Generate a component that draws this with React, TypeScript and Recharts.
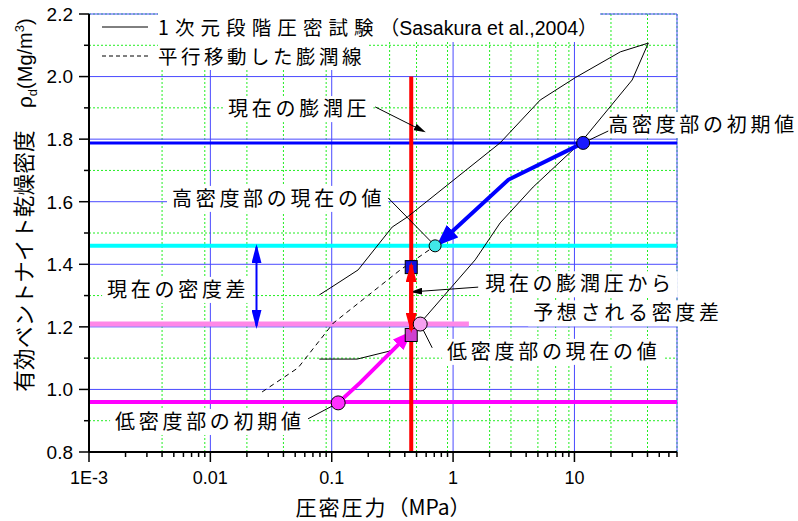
import React from 'react';
import {
  ComposedChart, Line, Scatter, XAxis, YAxis, CartesianGrid, ReferenceLine, ReferenceDot, Legend,
} from 'recharts';

const JP = '"Noto Sans CJK JP", sans-serif';
const LATIN = '"Liberation Sans", Arial, sans-serif';
const LATIN_JP = '"Liberation Sans", "Noto Sans CJK JP", sans-serif';

// axes
const X_DOMAIN = [0.001, 70];
const Y_DOMAIN = [0.8, 2.2];
const X_MAJOR_TICKS = [0.001, 0.01, 0.1, 1, 10];
const X_TICK_LABELS = ['1E-3', '0.01', '0.1', '1', '10'];
const X_MINOR_TICKS = [
  0.002, 0.003, 0.004, 0.005, 0.006, 0.007, 0.008, 0.009,
  0.02, 0.03, 0.04, 0.05, 0.06, 0.07, 0.08, 0.09,
  0.2, 0.3, 0.4, 0.5, 0.6, 0.7, 0.8, 0.9,
  2, 3, 4, 5, 6, 7, 8, 9,
  20, 30, 40, 50, 60, 70,
];
const X_GRID_MAJOR = [0.01, 0.1, 1, 10];
const Y_MAJOR_TICKS = [0.8, 1.0, 1.2, 1.4, 1.6, 1.8, 2.0, 2.2];
const Y_TICK_LABELS = ['0.8', '1.0', '1.2', '1.4', '1.6', '1.8', '2.0', '2.2'];
const Y_MINOR_TICKS = [0.9, 1.1, 1.3, 1.5, 1.7, 1.9, 2.1];
const Y_GRID_MAJOR = [1.0, 1.2, 1.4, 1.6, 1.8, 2.0];
const X_TICKS = [...X_MAJOR_TICKS, ...X_MINOR_TICKS].sort((a, b) => a - b);
const Y_TICKS = [...Y_MAJOR_TICKS, ...Y_MINOR_TICKS].sort((a, b) => a - b);

// 1次元段階圧密試験 (loading branch, then unloading branch)
const TEST_NAME = '1次元段階圧密試験（Sasakura et al.,2004）';
const TEST_PRESSURE = [0.079, 0.162, 0.303, 0.536, 1.52, 2.44, 4.57, 11.2, 29.9, 40.6, 23.9, 10.2, 5.22, 2.44, 0.42, 0.315, 0.165, 0.097, 0.079];
const TEST_DENSITY = [1.097, 1.097, 1.123, 1.212, 1.414, 1.532, 1.647, 1.788, 1.989, 2.107, 2.079, 1.997, 1.925, 1.788, 1.551, 1.519, 1.382, 1.324, 1.302];

// 平行移動した膨潤線
const SWELL_NAME = '平行移動した膨潤線';
const SWELL_PRESSURE = [0.0267, 0.0528, 0.103, 0.367, 0.711];
const SWELL_DENSITY = [0.992, 1.069, 1.212, 1.382, 1.459];

// paths of high / low density parts
const HIGH_PATH_PRESSURE = [11.8, 2.85, 0.76];
const HIGH_PATH_DENSITY = [1.788, 1.67, 1.465];
const LOW_PATH_PRESSURE = [0.113, 0.171, 0.443];
const LOW_PATH_DENSITY = [0.957, 1.021, 1.181];

// points
const HIGH_INIT = [11.8, 1.788];
const HIGH_NOW = [0.711, 1.459];
const LOW_NOW = [0.536, 1.209];
const LOW_INIT = [0.113, 0.957];
const SWELL_HIGH = [0.452, 1.391];
const SWELL_LOW = [0.452, 1.174];

// levels
const HIGH_INIT_RHO = 1.788;
const HIGH_NOW_RHO = 1.459;
const LOW_NOW_RHO = 1.209;
const LOW_NOW_END = 1.35;
const LOW_INIT_RHO = 0.96;
const SWELL_P_NOW = 0.452;
const SWELL_P_RANGE = [2.0, 0.8];
const EXPECTED_DIFF = [1.19, 1.398];
const DIFF_P = 0.024;
const CURRENT_DIFF = [1.455, 1.203];

// annotations
const NOTE_TEXTS = ['現在の膨潤圧', '高密度部の現在の値', '高密度部の初期値', '現在の密度差', '現在の膨潤圧から', '予想される密度差', '低密度部の現在の値', '低密度部の初期値'];
const NOTE_PRESSURE = [0.014, 0.00483, 19.0, 0.00141, 1.84, 4.57, 0.893, 0.00164];
const NOTE_DENSITY = [1.896, 1.609, 1.845, 1.318, 1.336, 1.243, 1.12, 0.896];

const LEADER_FROM = [[0.228, 1.903], [0.292, 1.612], [11.8, 1.788], [1.61, 1.327], [0.536, 1.209], [0.0638, 0.906]];
const LEADER_TO = [[0.566, 1.826], [0.711, 1.459], [19.0, 1.826], [0.469, 1.312], [0.673, 1.133], [0.113, 0.957]];
const LEADER_ARROW = [true, false, false, true, false, false];

const zip = (xs: number[], ys: number[]) => xs.map((x, i) => ({ x, y: ys[i] }));
const pt = (p: number[]) => [{ x: p[0], y: p[1] }];

const NOTE_ADVANCE = 23.7;
const LEGEND_ROW = 28.5;

function XTick(props: any) {
  const { x, y, payload } = props;
  const i = X_MAJOR_TICKS.findIndex((v) => Math.abs(v / payload.value - 1) < 1e-6);
  return (
    <g>
      <line x1={x} y1={y} x2={x} y2={y + (i >= 0 ? 10 : 5)} stroke="#000" strokeWidth={1.5} />
      {i >= 0 && (
        <text x={x} y={y + 32} textAnchor="middle" fontFamily={LATIN} fontSize={18} fill="#000">
          {X_TICK_LABELS[i]}
        </text>
      )}
    </g>
  );
}

function YTick(props: any) {
  const { x, y, payload } = props;
  const i = Y_MAJOR_TICKS.findIndex((v) => Math.abs(v - payload.value) < 1e-6);
  return (
    <g>
      <line x1={x} y1={y} x2={x - (i >= 0 ? 10 : 5)} y2={y} stroke="#000" strokeWidth={1.5} />
      {i >= 0 && (
        <text x={x - 16} y={y} dy="0.36em" textAnchor="end" fontFamily={LATIN} fontSize={19} fill="#000">
          {Y_TICK_LABELS[i]}
        </text>
      )}
    </g>
  );
}

function XTitle(props: any) {
  const vb = props.viewBox;
  return (
    <text x={vb.x + vb.width / 2} y={vb.y + 63} textAnchor="middle" fontFamily={JP} fontSize={21} fill="#000">
      <tspan letterSpacing={2}>圧密圧力</tspan>
      <tspan>（MPa）</tspan>
    </text>
  );
}

function YTitle(props: any) {
  const vb = props.viewBox;
  const cx = vb.x + 24;
  const cy = vb.y + vb.height / 2 - 28;
  return (
    <text transform={`rotate(-90 ${cx} ${cy})`} x={cx} y={cy + 8} textAnchor="middle" fontFamily={JP} fontSize={21.5} fill="#000">
      <tspan letterSpacing={0.3}>有効ベントナイト乾燥密度</tspan>
      <tspan dx={22} fontFamily={LATIN} fontSize={21}>ρ</tspan>
      <tspan fontFamily={LATIN} fontSize={13} dy={5}>d</tspan>
      <tspan fontFamily={LATIN} fontSize={20} dy={-5}>(Mg/m</tspan>
      <tspan fontFamily={LATIN} fontSize={13} dy={-8}>3</tspan>
      <tspan fontFamily={LATIN} fontSize={20} dy={8}>)</tspan>
    </text>
  );
}

function LegendBox(props: any) {
  const items = (props.payload || []).filter((e: any) => e.value === TEST_NAME || e.value === SWELL_NAME);
  return (
    <div style={{ fontFamily: JP, fontSize: 19.5, lineHeight: `${LEGEND_ROW}px`, color: '#000' }}>
      {items.map((e: any) => {
        const dashed = e.value === SWELL_NAME;
        const cut = e.value.indexOf('（');
        const head = cut >= 0 ? e.value.slice(0, cut) : e.value;
        const tail = cut >= 0 ? e.value.slice(cut) : '';
        return (
          <div key={e.value} style={{ display: 'flex', alignItems: 'center', height: LEGEND_ROW, whiteSpace: 'nowrap' }}>
            <svg width={46} height={4} style={{ display: 'block' }}>
              <line x1={0} y1={2} x2={46} y2={2} stroke="#000" strokeWidth={1} strokeDasharray={dashed ? '4 3' : undefined} />
            </svg>
            <span style={{ display: 'inline-block', height: LEGEND_ROW, lineHeight: `${LEGEND_ROW}px`, marginLeft: 10, background: '#fff', paddingRight: 2 }}>
              <span style={{ letterSpacing: dashed ? 3.5 : 6.1 }}>{head}</span>
              <span style={{ fontFamily: LATIN_JP, fontSize: 19.5 }}>{tail}</span>
            </span>
          </div>
        );
      })}
    </div>
  );
}

const noteShape = (text: string) => (p: any) => (
  <g>
    <rect x={p.cx - 5} y={p.cy - 13} width={text.length * NOTE_ADVANCE + 8} height={26} fill="#fff" />
    <text x={p.cx} y={p.cy + 7} fontFamily={JP} fontSize={20} letterSpacing={3.7} fill="#000">{text}</text>
  </g>
);

const dotShape = (fill: string, r: number) => (p: any) => (
  <circle cx={p.cx} cy={p.cy} r={r} fill={fill} stroke="#000" strokeWidth={1} />
);

const squareShape = (fill: string) => (p: any) => (
  <rect x={p.cx - 6} y={p.cy - 6.5} width={12} height={13} fill={fill} stroke="#000" strokeWidth={1} />
);

function ArrowHead({ id, color, len, wid }: { id: string; color: string; len: number; wid: number }) {
  return (
    <marker id={id} viewBox={`0 0 ${len} ${wid}`} refX={len - 3} refY={wid / 2} markerWidth={len} markerHeight={wid}
      markerUnits="userSpaceOnUse" orient="auto-start-reverse">
      <path d={`M0,0 L${len},${wid / 2} L0,${wid} z`} fill={color} />
    </marker>
  );
}

export default function App() {
  return (
    <div style={{ position: 'absolute', left: 0, top: 0, background: '#fff' }}>
      <svg width={0} height={0} style={{ position: 'absolute' }}>
        <defs>
          <ArrowHead id="ah-blue" color="#0000ff" len={22} wid={17} />
          <ArrowHead id="ah-mag" color="#ff00ff" len={20} wid={15} />
          <ArrowHead id="ah-red" color="#ff0000" len={20} wid={11} />
          <ArrowHead id="ah-blue2" color="#0000ff" len={19} wid={10} />
          <ArrowHead id="ah-black" color="#000" len={12} wid={7} />
        </defs>
      </svg>
      <ComposedChart width={798} height={521} margin={{ top: 14, right: 121, bottom: 0, left: 0 }}>
        <CartesianGrid xAxisId="xmin" yAxisId="ymin" stroke="#22ee22" strokeDasharray="2 2" />
        <CartesianGrid xAxisId="xmaj" yAxisId="ymaj" stroke="#4a4aff" />

        <XAxis dataKey="x" type="number" scale="log" domain={X_DOMAIN} allowDataOverflow ticks={X_TICKS} interval={0}
          tick={<XTick />} tickLine={false} tickSize={0} tickMargin={0} height={69}
          axisLine={{ stroke: '#000', strokeWidth: 2 }} label={<XTitle />} />
        <XAxis xAxisId="xmaj" dataKey="x" type="number" scale="log" domain={X_DOMAIN} allowDataOverflow ticks={X_GRID_MAJOR} hide />
        <XAxis xAxisId="xmin" dataKey="x" type="number" scale="log" domain={X_DOMAIN} allowDataOverflow ticks={X_MINOR_TICKS} hide />
        <YAxis dataKey="y" type="number" domain={Y_DOMAIN} allowDataOverflow ticks={Y_TICKS} interval={0}
          tick={<YTick />} tickLine={false} tickSize={0} tickMargin={0} width={89}
          axisLine={{ stroke: '#000', strokeWidth: 2 }} label={<YTitle />} />
        <YAxis yAxisId="ymaj" dataKey="y" type="number" domain={Y_DOMAIN} allowDataOverflow ticks={Y_GRID_MAJOR} hide />
        <YAxis yAxisId="ymin" dataKey="y" type="number" domain={Y_DOMAIN} allowDataOverflow ticks={Y_MINOR_TICKS} hide />

        {NOTE_TEXTS.map((t, i) => (
          <ReferenceDot key={t} x={NOTE_PRESSURE[i]} y={NOTE_DENSITY[i]} r={0} shape={noteShape(t)} zIndex={10} />
        ))}

        <ReferenceLine y={HIGH_INIT_RHO} stroke="#0000ff" strokeWidth={3} zIndex={100} />
        <ReferenceLine y={HIGH_NOW_RHO} stroke="#00ffff" strokeWidth={4} zIndex={100} />
        <ReferenceLine segment={[{ x: X_DOMAIN[0], y: LOW_NOW_RHO }, { x: LOW_NOW_END, y: LOW_NOW_RHO }]} stroke="#ff88e8" strokeWidth={5} zIndex={100} />
        <ReferenceLine y={LOW_INIT_RHO} stroke="#ff00ff" strokeWidth={4} zIndex={100} />
        <ReferenceLine segment={[{ x: SWELL_P_NOW, y: SWELL_P_RANGE[0] }, { x: SWELL_P_NOW, y: SWELL_P_RANGE[1] }]} stroke="#ff0000" strokeWidth={4} zIndex={100} />

        <Line name={TEST_NAME} data={zip(TEST_PRESSURE, TEST_DENSITY)} dataKey="y" type="linear" stroke="#000" strokeWidth={1}
          dot={false} activeDot={false} isAnimationActive={false} zIndex={200} />
        <Line name={SWELL_NAME} data={zip(SWELL_PRESSURE, SWELL_DENSITY)} dataKey="y" type="linear" stroke="#000" strokeWidth={1}
          strokeDasharray="5 4" dot={false} activeDot={false} isAnimationActive={false} zIndex={200} />

        {LEADER_FROM.map((f, i) => (
          <Line key={`leader-${i}`} data={[{ x: f[0], y: f[1] }, { x: LEADER_TO[i][0], y: LEADER_TO[i][1] }]} dataKey="y"
            type="linear" stroke="#000" strokeWidth={1} markerEnd={LEADER_ARROW[i] ? 'url(#ah-black)' : undefined}
            dot={false} activeDot={false} legendType="none" isAnimationActive={false} zIndex={300} />
        ))}

        <Line data={zip(HIGH_PATH_PRESSURE, HIGH_PATH_DENSITY)} dataKey="y" type="linear" stroke="#0000ff" strokeWidth={4}
          markerEnd="url(#ah-blue)" dot={false} activeDot={false} legendType="none" isAnimationActive={false} zIndex={400} />
        <Line data={zip(LOW_PATH_PRESSURE, LOW_PATH_DENSITY)} dataKey="y" type="linear" stroke="#ff00ff" strokeWidth={4}
          markerEnd="url(#ah-mag)" dot={false} activeDot={false} legendType="none" isAnimationActive={false} zIndex={400} />
        <Line data={[{ x: DIFF_P, y: CURRENT_DIFF[0] }, { x: DIFF_P, y: CURRENT_DIFF[1] }]} dataKey="y" type="linear"
          stroke="#0000ff" strokeWidth={2} markerStart="url(#ah-blue2)" markerEnd="url(#ah-blue2)"
          dot={false} activeDot={false} legendType="none" isAnimationActive={false} zIndex={400} />

        <Scatter data={pt(SWELL_HIGH)} shape={squareShape('#1010e0')} legendType="none" isAnimationActive={false} zIndex={600} />
        <Scatter data={pt(SWELL_LOW)} shape={squareShape('#d040d0')} legendType="none" isAnimationActive={false} zIndex={600} />
        <Line data={[{ x: SWELL_P_NOW, y: EXPECTED_DIFF[0] }, { x: SWELL_P_NOW, y: EXPECTED_DIFF[1] }]} dataKey="y" type="linear"
          stroke="#ff0000" strokeWidth={4} markerStart="url(#ah-red)" markerEnd="url(#ah-red)"
          dot={false} activeDot={false} legendType="none" isAnimationActive={false} zIndex={650} />
        <Scatter data={pt(HIGH_INIT)} shape={dotShape('#1a1aff', 6.5)} legendType="none" isAnimationActive={false} zIndex={700} />
        <Scatter data={pt(HIGH_NOW)} shape={dotShape('#40e8e8', 6)} legendType="none" isAnimationActive={false} zIndex={700} />
        <Scatter data={pt(LOW_NOW)} shape={dotShape('#f5a0f0', 7)} legendType="none" isAnimationActive={false} zIndex={700} />
        <Scatter data={pt(LOW_INIT)} shape={dotShape('#ff30ff', 7)} legendType="none" isAnimationActive={false} zIndex={700} />

        <Legend layout="horizontal" verticalAlign="middle" align="center" content={<LegendBox />}
          wrapperStyle={{ left: 102, top: 13, width: 'auto', height: 'auto' }} />
      </ComposedChart>
    </div>
  );
}
